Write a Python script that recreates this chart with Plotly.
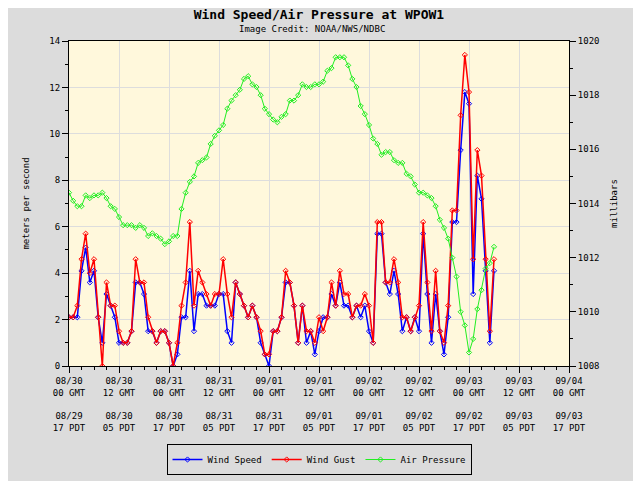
import plotly.graph_objects as go

# hours since 08/30 00 GMT
wind_speed = [2.1, 2.1, 2.1, 4.1, 5.1, 3.6, 4.1, 2.1, 1.0, 3.1, 2.6, 2.1, 1.0, 1.0, 1.0, 1.5,
              3.6, 3.6, 3.1, 1.5, 1.5, 1.0, 1.5, 1.5, 1.0, 0.0, 0.5, 2.1, 2.1, 4.1, 1.5, 3.1,
              3.1, 2.6, 2.6, 2.6, 3.1, 3.1, 1.5, 1.0, 3.6, 3.1, 2.6, 2.1, 2.6, 2.1, 1.0, 0.5,
              0.0, 1.5, 1.5, 2.1, 3.6, 3.6, 2.6, 1.0, 2.6, 1.0, 1.5, 0.5, 1.5, 2.1, 2.1, 3.1,
              2.6, 3.6, 2.6, 2.6, 2.1, 2.6, 2.1, 2.6, 1.5, 1.0, 5.7, 5.7, 3.6, 3.1, 4.1, 3.1,
              1.5, 2.1, 1.5, 2.1, 1.5, 5.7, 3.1, 1.0, 3.1, 1.5, 0.5, 2.1, 6.2, 6.2, 9.3, 11.8,
              11.3, 3.1, 8.2, 7.2, 4.1, 1.0, 4.1]
wind_gust = [2.1, 2.1, 2.6, 4.6, 5.7, 4.0, 4.6, 2.1, 0.0, 3.6, 2.6, 2.6, 1.5, 1.0, 1.0, 1.5,
             4.6, 3.6, 3.6, 2.1, 1.5, 1.0, 1.5, 1.5, 1.0, 0.0, 1.0, 2.6, 3.6, 6.2, 2.6, 4.1,
             3.6, 3.1, 2.6, 3.1, 3.1, 4.6, 3.1, 2.1, 3.6, 3.1, 2.6, 2.1, 2.6, 2.1, 1.5, 0.5,
             0.5, 1.5, 1.5, 2.1, 4.1, 3.6, 2.6, 1.0, 2.6, 1.5, 1.5, 1.0, 2.1, 1.5, 2.1, 3.6,
             2.6, 4.1, 3.1, 3.1, 2.1, 2.6, 2.6, 3.1, 2.6, 1.0, 6.2, 6.2, 3.6, 3.6, 4.6, 3.6,
             2.1, 2.1, 1.5, 2.1, 2.6, 6.2, 3.6, 1.5, 4.1, 1.5, 1.0, 2.6, 6.7, 6.7, 10.8, 13.4,
             11.8, 4.6, 9.3, 8.2, 4.6, 1.5, 4.6]
air_pressure = [1014.4, 1014.1, 1013.9, 1013.9, 1014.3, 1014.2, 1014.3, 1014.3, 1014.4, 1014.2,
                1013.9, 1013.8, 1013.5, 1013.2, 1013.2, 1013.2, 1013.1, 1013.2, 1013.1, 1012.8,
                1012.9, 1012.8, 1012.7, 1012.5, 1012.6, 1012.8, 1012.8, 1013.8, 1014.4, 1014.8,
                1015.0, 1015.5, 1015.6, 1015.7, 1016.2, 1016.5, 1016.7, 1016.9, 1017.5, 1017.8,
                1018.0, 1018.2, 1018.6, 1018.7, 1018.4, 1018.3, 1018.0, 1017.5, 1017.3, 1017.1,
                1017.0, 1017.2, 1017.3, 1017.8, 1017.8, 1018.0, 1018.4, 1018.3, 1018.3, 1018.4,
                1018.4, 1018.5, 1018.9, 1019.0, 1019.4, 1019.4, 1019.4, 1019.1, 1018.6, 1018.3,
                1017.6, 1017.3, 1016.9, 1016.4, 1016.2, 1015.8, 1015.9, 1015.9, 1015.6, 1015.5,
                1015.5, 1015.1, 1015.0, 1014.7, 1014.4, 1014.4, 1014.3, 1014.2, 1013.9, 1013.4,
                1013.1, 1012.7, 1012.0, 1011.3, 1010.0, 1009.5, 1008.5, 1009.0, 1010.1, 1010.8,
                1011.6, 1011.8, 1012.4]
hours = list(range(len(wind_speed)))

tick_hours = list(range(0, 121, 12))
tick_labels = ["08/30<br>00 GMT<br><br>08/29<br>17 PDT", "08/30<br>12 GMT<br><br>08/30<br>05 PDT",
               "08/31<br>00 GMT<br><br>08/30<br>17 PDT", "08/31<br>12 GMT<br><br>08/31<br>05 PDT",
               "09/01<br>00 GMT<br><br>08/31<br>17 PDT", "09/01<br>12 GMT<br><br>09/01<br>05 PDT",
               "09/02<br>00 GMT<br><br>09/01<br>17 PDT", "09/02<br>12 GMT<br><br>09/02<br>05 PDT",
               "09/03<br>00 GMT<br><br>09/02<br>17 PDT", "09/03<br>12 GMT<br><br>09/03<br>05 PDT",
               "09/04<br>00 GMT<br><br>09/03<br>17 PDT"]

mono = "DejaVu Sans Mono"
mk = dict(symbol="diamond-open", size=4, line=dict(width=1))

fig = go.Figure()
fig.add_trace(go.Scatter(x=hours, y=wind_speed, name="Wind Speed", mode="lines+markers",
                         line=dict(color="#0000ff", width=1.5), marker=dict(color="#0000ff", **mk)))
fig.add_trace(go.Scatter(x=hours, y=wind_gust, name="Wind Gust", mode="lines+markers",
                         line=dict(color="#ff0000", width=1.5), marker=dict(color="#ff0000", **mk)))
fig.add_trace(go.Scatter(x=hours, y=air_pressure, name="Air Pressure", yaxis="y2",
                         mode="lines+markers", line=dict(color="#22ee22", width=1),
                         marker=dict(color="#22ee22", **mk)))

fig.update_layout(
    width=641, height=481, paper_bgcolor="#dcdcdc", plot_bgcolor="#fff8dc",
    margin=dict(l=61, r=80, t=33, b=123, autoexpand=False),
    font=dict(family=mono, size=9, color="black"),
    title=dict(text="<b>Wind Speed/Air Pressure at WPOW1</b>", x=0.485, y=0.997, yanchor="top",
               yref="container", automargin=False, font=dict(family=mono, size=13)),
    annotations=[dict(text="Image Credit: NOAA/NWS/NDBC", x=0.485, y=1.0, xref="paper", yref="paper",
                      yshift=5, yanchor="bottom", showarrow=False, font=dict(family=mono, size=9))],
    xaxis=dict(range=[0, 120], tickvals=tick_hours, ticktext=tick_labels, tickangle=0,
               showgrid=True, gridcolor="#dddddd", ticks="outside", ticklen=6, tickcolor="black",
               showline=True, linecolor="black", mirror=True, zeroline=False, automargin=False,
               minor=dict(dtick=3, ticks="outside", ticklen=3, tickcolor="black", showgrid=False)),
    yaxis=dict(range=[0, 14], dtick=2, title=dict(text="meters per second", standoff=18,
               font=dict(size=9)), automargin=False,
               showgrid=True, gridcolor="#dddddd", ticks="outside", ticklen=6, tickcolor="black",
               showline=True, linecolor="black", mirror=True, zeroline=False,
               minor=dict(dtick=1, ticks="outside", ticklen=3, tickcolor="black")),
    yaxis2=dict(range=[1008, 1020], dtick=2, overlaying="y", side="right", automargin=False,
                title=dict(text="millibars", standoff=12, font=dict(size=9)), showgrid=False,
                ticks="outside", ticklen=6, tickcolor="black", zeroline=False,
                minor=dict(dtick=1, ticks="outside", ticklen=3, tickcolor="black")),
    legend=dict(orientation="h", x=0.5, xanchor="center", y=-0.24, yanchor="top",
                bgcolor="#dcdcdc", bordercolor="black", borderwidth=1,
                font=dict(family=mono, size=9)),
)

fig.write_html("out.html")
